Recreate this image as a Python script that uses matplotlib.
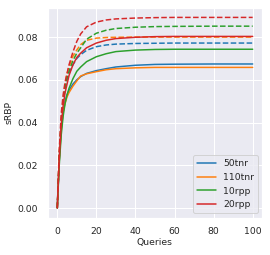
import matplotlib
matplotlib.use('Agg')
import matplotlib.pyplot as plt
import seaborn as sns

# query counts at which sRBP was sampled
queries = [0, 1, 2, 3, 4, 5, 6, 8, 10, 12, 15, 20, 25, 30, 40, 50, 60, 80, 100]

# solid runs
srbp_50tnr = [0, 0.022, 0.037, 0.045, 0.050, 0.053, 0.055, 0.058, 0.060, 0.0615, 0.063, 0.0643,
              0.0652, 0.066, 0.0668, 0.0672, 0.0673, 0.0674, 0.0674]
srbp_110tnr = [0, 0.022, 0.036, 0.045, 0.049, 0.052, 0.054, 0.057, 0.0595, 0.0618, 0.0628, 0.0638,
               0.0647, 0.0652, 0.0656, 0.0658, 0.0658, 0.0658, 0.0658]
srbp_10rpp = [0, 0.020, 0.034, 0.043, 0.049, 0.053, 0.056, 0.0605, 0.064, 0.066, 0.0685, 0.0708,
              0.0722, 0.0732, 0.0739, 0.0742, 0.0743, 0.0743, 0.0743]
srbp_20rpp = [0, 0.023, 0.039, 0.048, 0.054, 0.058, 0.062, 0.067, 0.0705, 0.0725, 0.075, 0.0772,
              0.0785, 0.0793, 0.0799, 0.0802, 0.0803, 0.0803, 0.0803]

# dashed runs
srbp_50tnr_d = [0, 0.024, 0.040, 0.050, 0.056, 0.060, 0.063, 0.067, 0.070, 0.0718, 0.0738, 0.0755,
                0.0763, 0.0767, 0.0770, 0.0771, 0.0772, 0.0772, 0.0772]
srbp_110tnr_d = [0, 0.025, 0.041, 0.051, 0.058, 0.063, 0.066, 0.071, 0.0740, 0.0765, 0.0785, 0.0795,
                 0.0798, 0.0799, 0.0800, 0.0800, 0.0800, 0.0800, 0.0800]
srbp_10rpp_d = [0, 0.024, 0.040, 0.050, 0.056, 0.061, 0.064, 0.069, 0.0725, 0.075, 0.079, 0.0818,
                0.0832, 0.0840, 0.0846, 0.0849, 0.0850, 0.0851, 0.0851]
srbp_20rpp_d = [0, 0.027, 0.044, 0.053, 0.059, 0.063, 0.067, 0.073, 0.078, 0.0815, 0.0848, 0.0870,
                0.0880, 0.0885, 0.0889, 0.0891, 0.0892, 0.0892, 0.0892]

labels = ['50tnr', '110tnr', '10rpp', '20rpp']
solid = [srbp_50tnr, srbp_110tnr, srbp_10rpp, srbp_20rpp]
dashed = [srbp_50tnr_d, srbp_110tnr_d, srbp_10rpp_d, srbp_20rpp_d]

sns.set_theme(rc={'font.size': 9.3, 'axes.labelsize': 9.3, 'xtick.labelsize': 9.3,
                  'ytick.labelsize': 9.3, 'legend.fontsize': 9.3})
fig = plt.figure(figsize=(3.75, 3.542), dpi=72)
ax = fig.add_axes([0.176, 0.147, 0.796, 0.822])

colors = plt.get_cmap('tab10').colors
for i in range(4):
    ax.plot(queries, solid[i], color=colors[i], label=labels[i])
    ax.plot(queries, dashed[i], color=colors[i], linestyle='--')

ax.set_xlabel('Queries', labelpad=2)
ax.set_ylabel('sRBP')
ax.set_yticks([0.0, 0.02, 0.04, 0.06, 0.08])
ax.legend(loc='lower right')

fig.savefig('out.png', dpi=72)
